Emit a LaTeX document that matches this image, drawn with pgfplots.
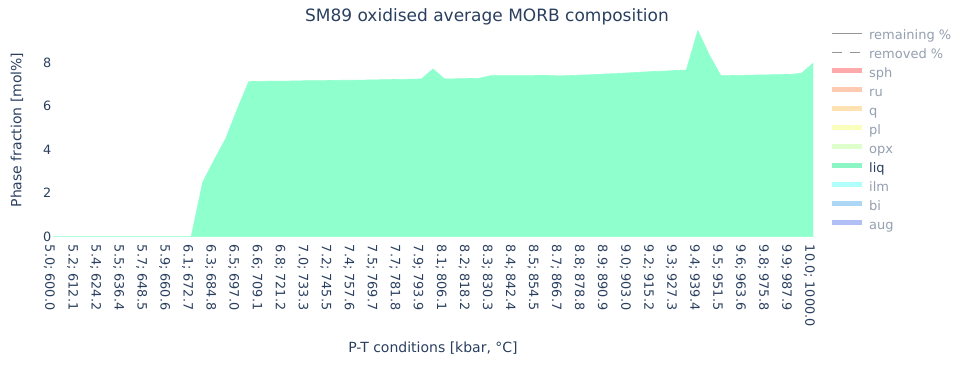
\documentclass[border=0pt]{standalone}
\usepackage{pgfplots}
\pgfplotsset{compat=1.18}
\usepackage{fontspec}
\setmainfont{DejaVu Sans}
\definecolor{txt}{RGB}{42,63,95}
\definecolor{txtoff}{RGB}{148,159,175}
\definecolor{liqfill}{RGB}{144,255,206}
\definecolor{cline}{RGB}{150,150,150}
\definecolor{csph}{RGB}{255,170,170}
\definecolor{cru}{RGB}{255,202,178}
\definecolor{cq}{RGB}{255,226,178}
\definecolor{cpl}{RGB}{250,255,188}
\definecolor{copx}{RGB}{222,255,204}
\definecolor{cliq}{RGB}{140,245,196}
\definecolor{cilm}{RGB}{176,255,250}
\definecolor{cbi}{RGB}{172,216,245}
\definecolor{caug}{RGB}{176,192,246}
\pgfplotstableread{
x y
0 0
0.5 0
1 0
1.5 0
2 0
2.5 0
3 0
3.5 0
4 0
4.5 0
5 0
5.5 0
6 0
6.5 2.50
7 3.53
7.5 4.51
8 5.86
8.5 7.13
9 7.14
9.5 7.15
10 7.15
10.5 7.16
11 7.17
11.5 7.17
12 7.18
12.5 7.19
13 7.19
13.5 7.20
14 7.21
14.5 7.22
15 7.23
15.5 7.24
16 7.25
16.5 7.71
17 7.25
17.5 7.26
18 7.27
18.5 7.28
19 7.40
19.5 7.40
20 7.40
20.5 7.40
21 7.41
21.5 7.41
22 7.39
22.5 7.41
23 7.43
23.5 7.45
24 7.48
24.5 7.50
25 7.53
25.5 7.56
26 7.59
26.5 7.61
27 7.64
27.5 7.66
28 9.47
28.5 8.35
29 7.40
29.5 7.41
30 7.42
30.5 7.43
31 7.44
31.5 7.45
32 7.46
32.5 7.51
33 7.97
}\liqdata
\begin{document}
\begin{tikzpicture}
\useasboundingbox (0,0) rectangle (954pt,366pt);
\begin{axis}[
  at={(53pt,129.3pt)}, anchor=south west,
  scale only axis, width=760pt, height=206pt,
  xmin=0, xmax=33, ymin=0, ymax=9.47,
  axis line style={draw=none},
  major tick length=0pt,
  xtick={0,...,33},
  xticklabels={5.0; 600.0,5.2; 612.1,5.4; 624.2,5.5; 636.4,5.7; 648.5,5.9; 660.6,6.1; 672.7,6.3; 684.8,6.5; 697.0,6.6; 709.1,6.8; 721.2,7.0; 733.3,7.2; 745.5,7.4; 757.6,7.5; 769.7,7.7; 781.8,7.9; 793.9,8.1; 806.1,8.2; 818.2,8.3; 830.3,8.4; 842.4,8.5; 854.5,8.7; 866.7,8.8; 878.8,8.9; 890.9,9.0; 903.0,9.2; 915.2,9.3; 927.3,9.4; 939.4,9.5; 951.5,9.6; 963.6,9.8; 975.8,9.9; 987.9,10.0; 1000.0},
  xticklabel style={font=\fontsize{12.8pt}{15pt}\selectfont, text=txt, xshift=-3.5pt, yshift=-8pt, rotate=-90, anchor=west, inner sep=0pt},
  ytick={0,2,4,6,8},
  yticklabel style={font=\fontsize{12.8pt}{15pt}\selectfont, text=txt, anchor=east, inner sep=0pt, xshift=-1.5pt},
  /pgf/number format/assume math mode=true,
  title={SM89 oxidised average MORB composition},
  every axis title shift=0pt,
  title style={font=\fontsize{17pt}{20pt}\selectfont, text=txt, at={(axis description cs:0.571,1.0665)}, anchor=center, inner sep=0pt},
  xlabel={P-T conditions [kbar, °C]},
  xlabel style={font=\fontsize{14pt}{17pt}\selectfont, text=txt, at={(axis description cs:0.5,-0.54)}, anchor=center, inner sep=0pt},
  ylabel={Phase fraction [mol\%]},
  ylabel style={font=\fontsize{14pt}{17pt}\selectfont, text=txt, at={(axis description cs:-0.0474,0.518)}, anchor=center, inner sep=0pt},
  legend image code/.code={\draw[#1] (0pt,3.5pt) -- (30pt,3.5pt);},
  legend cell align=left,
  legend style={at={(axis description cs:1.021,1.002)}, anchor=north west, draw=none, fill=none, inner sep=0pt,
    font=\fontsize{13pt}{15pt}\selectfont, row sep=7pt,
    nodes={inner sep=0pt, text height=9pt, text depth=3pt},
    /tikz/every odd column/.append style={column sep=5pt}},
]
\addplot[fill=liqfill, draw=liqfill, line width=0.6pt, forget plot] table[x=x, y=y] {\liqdata} \closedcycle;
\addlegendimage{cline, line width=0.8pt}
\addlegendentry{\textcolor{txtoff}{remaining \%}}
\addlegendimage{cline, line width=0.8pt, dash pattern=on 10pt off 8pt}
\addlegendentry{\textcolor{txtoff}{removed \%}}
\addlegendimage{csph, line width=5pt}
\addlegendentry{\textcolor{txtoff}{sph}}
\addlegendimage{cru, line width=5pt}
\addlegendentry{\textcolor{txtoff}{ru}}
\addlegendimage{cq, line width=5pt}
\addlegendentry{\textcolor{txtoff}{q}}
\addlegendimage{cpl, line width=5pt}
\addlegendentry{\textcolor{txtoff}{pl}}
\addlegendimage{copx, line width=5pt}
\addlegendentry{\textcolor{txtoff}{opx}}
\addlegendimage{cliq, line width=5pt}
\addlegendentry{\textcolor{txt}{liq}}
\addlegendimage{cilm, line width=5pt}
\addlegendentry{\textcolor{txtoff}{ilm}}
\addlegendimage{cbi, line width=5pt}
\addlegendentry{\textcolor{txtoff}{bi}}
\addlegendimage{caug, line width=5pt}
\addlegendentry{\textcolor{txtoff}{aug}}
\end{axis}
\end{tikzpicture}
\end{document}
